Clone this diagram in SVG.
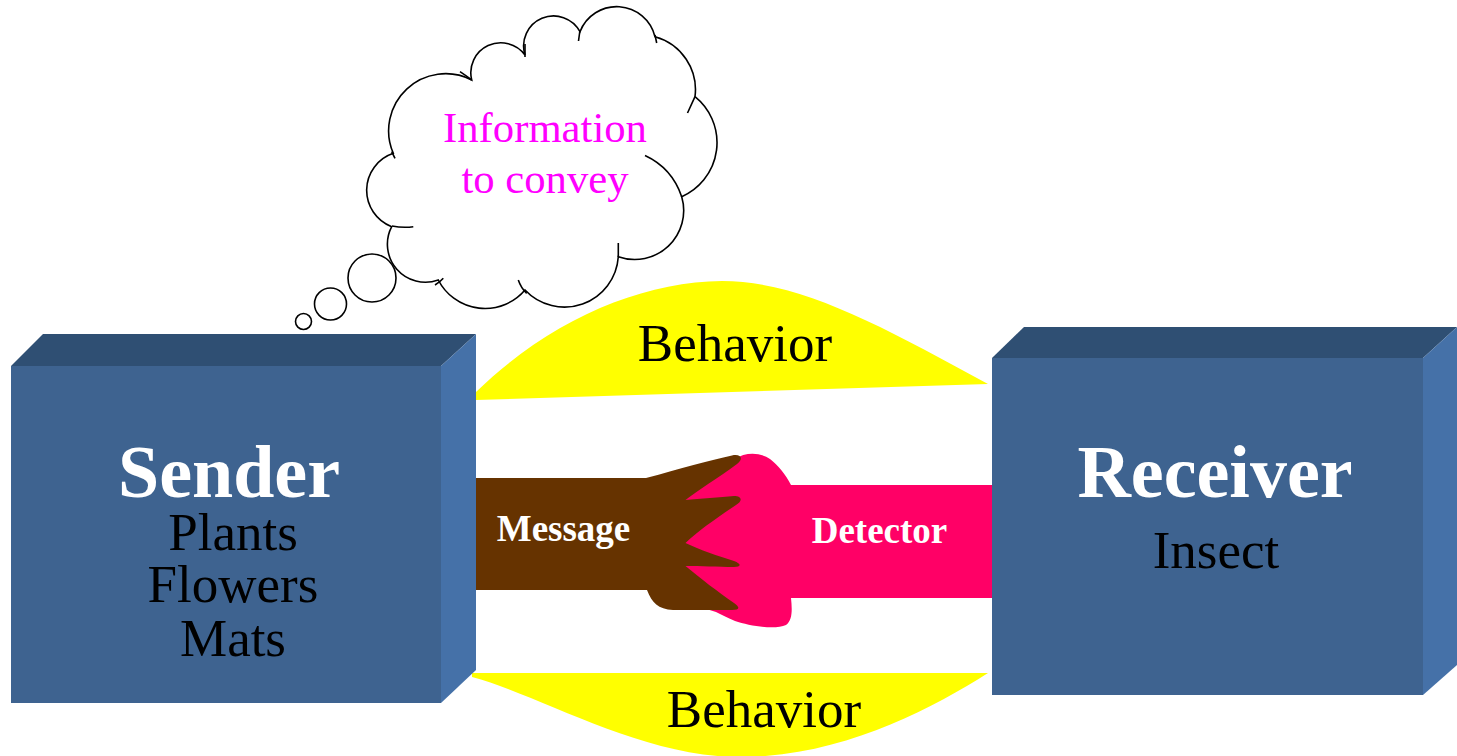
<svg xmlns="http://www.w3.org/2000/svg" width="1457" height="756" viewBox="0 0 1457 756">
<style>
.front{fill:#3E6390}
.top{fill:#2F4F73}
.side{fill:#4571A8}
.serif{font-family:"Liberation Serif","Times New Roman",serif}
.title{font-size:74px;font-weight:bold;fill:#FFFFFF;text-anchor:middle}
.sub{font-size:53px;fill:#000000;text-anchor:middle}
.beh{font-size:53px;fill:#000000;text-anchor:middle}
.lbl{font-size:37px;font-weight:bold;fill:#FFFFFF;text-anchor:middle}
.info{font-size:42.7px;fill:#FF00FF;text-anchor:middle}
.cl{fill:#FFFFFF;stroke:#000000;stroke-width:1.6}
.stub{fill:none;stroke:#000000;stroke-width:1.6}
.yel{fill:#FFFF00}
</style>
<rect width="1457" height="756" fill="#FFFFFF"/>

<g id="behavior-top">
<path class="yel" d="M476,400 L476,392 C550,320 640,282 722,281 C800,281 880,325 988,384 Z"/>
<text class="serif beh" x="735" y="361">Behavior</text>
</g>
<g id="behavior-bottom">
<path class="yel" d="M472,673 L988,673 C930,710 840,757 740,757 C640,757 540,695 472,677 Z"/>
<text class="serif beh" x="764" y="727">Behavior</text>
</g>

<g id="connectors">
<g id="detector">
<path fill="#FF0066" d="M680,485 L735,459 C745,452 760,452 770,459 C778,465 786,475 791,485 L992,485 L992,598 L791,598 C792,608 793,620 786,625 C775,630 750,626 735,621 C728,618 722,615 716,612 L700,607 L680,600 Z"/>
<text class="serif lbl" x="879.5" y="543">Detector</text>
</g>
<g id="message">
<path fill="#663300" d="M476,478 L646,478 C680,469 710,460 732,455.5 C741,453.5 744,459 737,464 C718,478 698,490 685.5,500 C700,499 720,497 734,496 C742,496 743,501 736,505 C718,517 698,531 685.5,543 C700,550 718,556 734,561 C742,564 741,567 734,567 C718,567 700,566 685.5,566 C700,578 718,592 734,603 C741,608 739,610 732,610 C710,610 690,610 673,610 C658,609 652,603 647,590 L476,590 Z"/>
<text class="serif lbl" x="563.5" y="541">Message</text>
</g>
</g>

<g id="thought-cloud">
<path class="cl" d="M471.7,80 A30,30 0 0 1 525,55 A30,30 0 0 1 580,31.7 A39.4,39.4 0 0 1 655,36.7 A55,55 0 0 1 695,96.7 A59,59 0 0 1 681.7,196.7 A49,49 0 0 1 618.3,256.7 A54,54 0 0 1 525,290 A52.5,52.5 0 0 1 438.3,280 A38,38 0 0 1 391.7,226.7 A39,39 0 0 1 393.3,153.3 A57,57 0 0 1 471.7,80 Z"/>
<path class="stub" d="M460,71.7 Q465,75 471.7,80 M525,44 L525,57 M580,30 L578.5,41 M655,35 L656.7,43 M695,96.7 L687.5,113 M645,155.5 Q672,168 681.7,196.7 M618.3,243 L618.3,257 M518.3,280 Q521,288 526.7,293.3 M443.3,278.3 Q440,282 435,285 M413.3,226.7 Q403,228 392,226 M395,158.3 L391.7,151.7"/>
<circle class="cl" cx="372" cy="278" r="24"/>
<circle class="cl" cx="330.5" cy="304" r="16"/>
<circle class="cl" cx="303.5" cy="321.5" r="8"/>
<text class="serif info" x="545" y="141.7">Information</text>
<text class="serif info" x="545" y="192.7">to convey</text>
</g>

<g id="sender">
<polygon class="top" points="11,366 43,334 476,334 441,366"/>
<polygon class="side" points="441,366 476,334 476,670 441,703"/>
<rect class="front" x="11" y="366" width="430" height="337"/>
<text class="serif title" x="229" y="497">Sender</text>
<text class="serif sub" x="233" y="550">Plants</text>
<text class="serif sub" x="233" y="602">Flowers</text>
<text class="serif sub" x="233" y="656">Mats</text>
</g>

<g id="receiver">
<polygon class="top" points="992,358 1024,327 1457,327 1423,358"/>
<polygon class="side" points="1423,358 1457,327 1457,665 1423,695"/>
<rect class="front" x="992" y="358" width="431" height="337"/>
<text class="serif title" x="1215" y="497">Receiver</text>
<text class="serif sub" x="1216" y="568">Insect</text>
</g>
</svg>
